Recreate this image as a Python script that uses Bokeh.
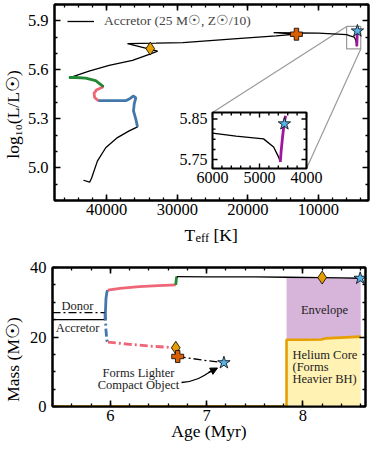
import numpy as np
from bokeh.plotting import figure
from bokeh.layouts import column, row
from bokeh.models import (Range1d, FixedTicker, LinearAxis, Legend, LegendItem,
                          Arrow, NormalHead)
from bokeh.core.properties import value
from bokeh.embed import file_html
from bokeh.resources import INLINE

SERIF = "Liberation Serif"
BLUE, PINK, GREEN, PURPLE = "#4477AA", "#EE6677", "#228833", "#A0179F"
GOLD, DORANGE, STARC = "#E69F00", "#D95F02", "#56B4E9"
ENV_FILL, CORE_FILL = "#D7B4DA", "#FFF2B3"

# ---------------- top panel data: HR diagram of the accretor ----------------
ms_teff = [43300, 42420, 42136, 41325, 40144, 38480, 36815, 35634]
ms_logl = [4.924, 4.912, 4.938, 5.041, 5.123, 5.185, 5.226, 5.251]
blue_teff = [35634, 35876, 36203, 36103, 35876, 36203, 36673, 37300, 39191, 41183]
blue_logl = [5.251, 5.298, 5.349, 5.391, 5.428, 5.440, 5.425, 5.411, 5.411, 5.411]
pink_teff = [41183, 41710, 41795, 41467, 40472]
pink_logl = [5.411, 5.431, 5.456, 5.477, 5.497]
green_teff = [40472, 41567, 42990, 44412, 45351]
green_logl = [5.497, 5.534, 5.549, 5.553, 5.553]
post_teff = [45000, 42506, 39660, 36345, 33972, 32790, 37057, 33000, 29200, 22000,
             16000, 13113, 16330, 10000, 6000, 5500, 4914, 4700, 4593, 4557]
post_logl = [5.556, 5.592, 5.627, 5.658, 5.695, 5.715, 5.761, 5.764, 5.767, 5.790,
             5.808, 5.818, 5.828, 5.825, 5.815, 5.808, 5.801, 5.781, 5.756, 5.744]
purple_teff = [4557, 4540, 4510, 4480, 4445]
purple_logl = [5.744, 5.770, 5.805, 5.835, 5.858]
hr_diamond = ([33830], [5.730])
hr_plus = ([13113], [5.818])
hr_star = ([4470], [5.838])

top_xticks = [10000, 20000, 30000, 40000]
top_xlabels = ["10000", "20000", "30000", "40000"]
top_xminor = list(range(4000, 48000, 2000))
top_yticks = [5.0, 5.3, 5.6, 5.9]
top_ylabels = ["5.0", "5.3", "5.6", "5.9"]
top_yminor = [4.8, 4.9, 5.1, 5.2, 5.4, 5.5, 5.7, 5.8, 6.0]

inset_xrange = (6000, 4000)
inset_yrange = (5.728, 5.866)
inset_xticks = [6000, 5000, 4000]
inset_xlabels = ["6000", "5000", "4000"]
inset_xminor = [5800, 5600, 5400, 5200, 4800, 4600, 4400, 4200]
inset_yticks = [5.75, 5.85]
inset_ylabels = ["5.75", "5.85"]
inset_yminor = [5.775, 5.8, 5.825]

# ---------------- bottom panel data: mass evolution ----------------
acc_pre_age, acc_pre_mass = [5.40, 5.945], [25.0, 25.0]
acc_blue_age, acc_blue_mass = [5.945, 5.95, 5.955, 5.965, 5.975], [25.0, 27.5, 31.0, 33.0, 33.5]
acc_pink_age, acc_pink_mass = [5.975, 6.1, 6.3, 6.5, 6.68], [33.5, 34.0, 34.5, 34.8, 35.0]
acc_green_age, acc_green_mass = [6.68, 6.685, 6.69], [35.0, 36.5, 37.4]
acc_post_age = [6.69, 7.0, 7.5, 7.83, 8.2, 8.4, 8.595]
acc_post_mass = [37.4, 37.3, 37.3, 37.2, 37.1, 37.0, 36.9]

don_pre_age, don_pre_mass = [5.40, 5.945], [27.0, 27.0]
don_blue_age, don_blue_mass = [5.945, 5.95, 5.955, 5.965, 5.975], [27.0, 25.5, 22.0, 19.0, 18.5]
don_pink_age, don_pink_mass = [5.975, 6.2, 6.4, 6.68], [18.5, 17.9, 17.4, 16.9]
don_post_age, don_post_mass = [6.70, 6.85, 7.0, 7.18], [14.4, 13.8, 13.2, 12.6]

core_age = [5.40, 7.83, 7.83, 8.00, 8.19, 8.23, 8.60]
core_mass = [0.0, 0.0, 19.2, 19.2, 19.3, 19.6, 20.1]
env_age = [7.83, 8.0, 8.19, 8.23, 8.4, 8.60]

m_diamond = ([6.68, 8.20], [16.9, 37.1])
m_plus = ([6.70], [14.4])
m_star = ([7.18, 8.595], [12.6, 36.9])

bot_xticks, bot_xlabels = [6, 7, 8], ["6", "7", "8"]
bot_xminor = [round(5.4 + 0.2 * i, 1) for i in range(17)]
bot_yticks, bot_ylabels = [0, 20, 40], ["0", "20", "40"]
bot_yminor = [5, 10, 15, 25, 30, 35]

# ---------------- geometry (page pixels; layout origin sits at page -8) ----------------
O = -8
LW = 32
T_X, T_Y = (47400, 2900), (4.8, 6.0)
T_FL, T_FT, T_FW, T_FH = 52, 4, 314, 196
T_BOT = 222
B_TOP = 245
B_X, B_Y = (5.4, 8.65), (0, 40)
B_FL, B_FT, B_FW, B_FH = 52, 267, 313, 139
PAGE_B = 451
RIGHT = 368


def tx(px):
    return T_X[0] + (px - T_FL) / T_FW * (T_X[1] - T_X[0])


def ty(py):
    return T_Y[1] - (py - T_FT) / T_FH * (T_Y[1] - T_Y[0])


def bx(px):
    return B_X[0] + (px - B_FL) / B_FW * (B_X[1] - B_X[0])


def by(py):
    return B_Y[1] - (py - B_FT) / B_FH * (B_Y[1] - B_Y[0])


def mirror(p, side, ticks, length, line):
    ax = LinearAxis(ticker=FixedTicker(ticks=[], minor_ticks=ticks))
    ax.minor_tick_in, ax.minor_tick_out = length, 0
    ax.major_tick_in = ax.major_tick_out = 0
    ax.minor_tick_line_width = 1.6 if length > 4 else 1.3
    ax.minor_tick_line_color = "black"
    ax.major_label_standoff = 0
    ax.axis_line_width = 2
    ax.axis_line_color = "black" if line else None
    p.add_layout(ax, side)


def style(p, xt, xm, xl, yt, ym, yl):
    bottom, left = p.below[0], p.left[0]
    bottom.ticker = FixedTicker(ticks=xt, minor_ticks=xm)
    left.ticker = FixedTicker(ticks=yt, minor_ticks=ym)
    bottom.major_label_overrides = dict(zip(xt, xl))
    left.major_label_overrides = dict(zip(yt, yl))
    for ax in (bottom, left):
        ax.major_tick_in, ax.major_tick_out = 6, 0
        ax.minor_tick_in, ax.minor_tick_out = 3, 0
        ax.major_tick_line_width, ax.minor_tick_line_width = 1.6, 1.3
        ax.major_tick_line_color = ax.minor_tick_line_color = "black"
        ax.axis_line_width, ax.axis_line_color = 2, "black"
        ax.major_label_text_font = SERIF
        ax.major_label_text_font_size = "16.5px"
        ax.major_label_text_color = "black"
    bottom.major_label_standoff = 3
    left.major_label_standoff = 6
    mirror(p, "above", xt, 6, True)
    mirror(p, "above", xm, 3, False)
    mirror(p, "right", yt, 6, True)
    mirror(p, "right", ym, 3, False)
    p.grid.visible = False
    p.outline_line_color = "black"
    p.outline_line_width = 2


def strip(x0, x1, y0, y1):
    """A bare figure whose data coordinates are page pixels (for axis titles)."""
    s = figure(frame_width=int(x1 - x0), frame_height=int(y1 - y0),
               x_range=Range1d(x0, x1), y_range=Range1d(y1, y0),
               min_border_left=0, min_border_right=0, min_border_top=0, min_border_bottom=0,
               x_axis_location=None, y_axis_location=None, outline_line_color=None,
               output_backend="svg", toolbar_location=None)
    s.grid.visible = False
    return s


def stext(s, x, y, t, size, angle=0.0, align="center", baseline="middle"):
    s.text(x=[x], y=[y], text=[t], angle=angle, text_align=align, text_baseline=baseline,
           text_font=value(SERIF), text_font_size=size, text_font_style="normal",
           text_color="black")


# ================= top panel =================
p1 = figure(frame_width=T_FW, frame_height=T_FH, x_range=Range1d(*T_X), y_range=Range1d(*T_Y),
            min_border_left=T_FL - (O + LW), min_border_right=RIGHT - T_FL - T_FW,
            min_border_top=T_FT - O, min_border_bottom=T_BOT - T_FT - T_FH,
            output_backend="svg", toolbar_location=None)
style(p1, top_xticks, top_xminor, top_xlabels, top_yticks, top_yminor, top_ylabels)

IX = (tx(210), tx(304))
IY = (ty(168), ty(112))


def inset_x(t):
    t = np.asarray(t, dtype=float)
    return IX[0] + (t - inset_xrange[0]) / (inset_xrange[1] - inset_xrange[0]) * (IX[1] - IX[0])


def inset_y(v):
    v = np.asarray(v, dtype=float)
    return IY[0] + (v - inset_yrange[0]) / (inset_yrange[1] - inset_yrange[0]) * (IY[1] - IY[0])


p1.quad(left=[inset_xrange[0]], right=[inset_xrange[1]], bottom=[inset_yrange[0]],
        top=[inset_yrange[1]], fill_alpha=0, line_color="#9a9a9a", line_width=1.2)
p1.segment(x0=[inset_xrange[0], inset_xrange[1]], y0=[inset_yrange[1], inset_yrange[0]],
           x1=[IX[0], IX[1]], y1=[IY[1], IY[0]], line_color="#9a9a9a", line_width=1.2)

all_teff = ms_teff + blue_teff + pink_teff + green_teff + post_teff
all_logl = ms_logl + blue_logl + pink_logl + green_logl + post_logl
r_black = p1.line(all_teff, all_logl, line_color="black", line_width=1.3)
p1.line(blue_teff, blue_logl, line_color=BLUE, line_width=2.8)
p1.line(pink_teff, pink_logl, line_color=PINK, line_width=2.8)
p1.line(green_teff, green_logl, line_color=GREEN, line_width=2.8)
p1.line(purple_teff, purple_logl, line_color=PURPLE, line_width=2.8)
p1.scatter(*hr_diamond, marker="diamond", size=13, fill_color=GOLD, line_color="black", line_width=0.8)
p1.scatter(*hr_plus, marker="plus", size=12, fill_color=DORANGE, line_color="black", line_width=0.8)
p1.scatter(*hr_star, marker="star", size=13, fill_color=STARC, line_color="black", line_width=0.8)

leg = Legend(items=[LegendItem(label="Accretor (25 M☉, Z☉/10)", renderers=[r_black])],
             location=(13, T_FH - 25), padding=0, margin=0, glyph_width=27, glyph_height=16,
             label_standoff=10, label_text_font=SERIF, label_text_font_size="13.5px",
             border_line_alpha=0, background_fill_alpha=0)
p1.add_layout(leg)

# ---- inset ----
p1.quad(left=[IX[0]], right=[IX[1]], bottom=[IY[0]], top=[IY[1]], fill_color="white", line_alpha=0)
in_teff = [t for t in post_teff if t <= inset_xrange[0]]
in_logl = [l for t, l in zip(post_teff, post_logl) if t <= inset_xrange[0]]
p1.line(inset_x(in_teff), inset_y(in_logl), line_color="black", line_width=1.3)
p1.line(inset_x(purple_teff), inset_y(purple_logl), line_color=PURPLE, line_width=2.8)
p1.scatter(inset_x(hr_star[0]), inset_y(hr_star[1]), marker="star", size=13,
           fill_color=STARC, line_color="black", line_width=0.8)
PXX = (T_X[0] - T_X[1]) / T_FW
PXY = (T_Y[1] - T_Y[0]) / T_FH
for ticks, ln in ((inset_xticks, 5), (inset_xminor, 3)):
    xs = list(inset_x(ticks)) * 2
    n = len(ticks)
    p1.segment(x0=xs, y0=[IY[0]] * n + [IY[1]] * n, x1=xs,
               y1=[IY[0] + ln * PXY] * n + [IY[1] - ln * PXY] * n,
               line_color="black", line_width=1.4)
for ticks, ln in ((inset_yticks, 5), (inset_yminor, 3)):
    ys = list(inset_y(ticks)) * 2
    n = len(ticks)
    p1.segment(y0=ys, x0=[IX[0]] * n + [IX[1]] * n, y1=ys,
               x1=[IX[0] - ln * PXX] * n + [IX[1] + ln * PXX] * n,
               line_color="black", line_width=1.4)
p1.quad(left=[IX[0]], right=[IX[1]], bottom=[IY[0]], top=[IY[1]], fill_alpha=0,
        line_color="black", line_width=2)
p1.text(x=inset_x(inset_xticks), y=[IY[0]] * 3, text=inset_xlabels, y_offset=3,
        text_align="center", text_baseline="top", text_font=value(SERIF),
        text_font_size="16px", text_color="black")
p1.text(x=[IX[0]] * 2, y=inset_y(inset_yticks), text=inset_ylabels, x_offset=-5,
        text_align="right", text_baseline="middle", text_font=value(SERIF),
        text_font_size="16px", text_color="black")

# axis-title strips for the top panel
l1 = strip(O, O + LW, O, T_BOT)
stext(l1, 12, 102, "log₁₀(L/L☉)", "17.5px", angle=np.pi / 2)
t1 = strip(O, RIGHT, T_BOT, B_TOP)
stext(t1, 184, 234, "T", "17.5px", align="left", baseline="alphabetic")
stext(t1, 195, 237, "eff", "12.5px", align="left", baseline="alphabetic")
stext(t1, 213, 234, "[K]", "17.5px", align="left", baseline="alphabetic")

# ================= bottom panel =================
p2 = figure(frame_width=B_FW, frame_height=B_FH, x_range=Range1d(*B_X), y_range=Range1d(*B_Y),
            min_border_left=B_FL - (O + LW), min_border_right=RIGHT - B_FL - B_FW,
            min_border_top=B_FT - B_TOP, min_border_bottom=PAGE_B - B_FT - B_FH,
            output_backend="svg", toolbar_location=None)
style(p2, bot_xticks, bot_xminor, bot_xlabels, bot_yticks, bot_yminor, bot_ylabels)
xa = p2.below[0]
xa.axis_label = "Age (Myr)"
xa.axis_label_text_font = SERIF
xa.axis_label_text_font_size = "17.5px"
xa.axis_label_text_font_style = "normal"
xa.axis_label_text_color = "black"
xa.axis_label_standoff = -3

env_core = np.interp(env_age, core_age[2:], core_mass[2:])
env_tot = np.interp(env_age, acc_post_age, acc_post_mass)
p2.varea(x=env_age, y1=env_core, y2=env_tot, fill_color=ENV_FILL)
p2.varea(x=env_age, y1=[0] * len(env_age), y2=env_core, fill_color=CORE_FILL)
p2.line(core_age, core_mass, line_color=GOLD, line_width=2.6)

DD = "8 3 2 3"
p2.line(acc_pre_age, acc_pre_mass, line_color="black", line_width=1.3)
p2.line(acc_blue_age, acc_blue_mass, line_color=BLUE, line_width=2.8)
p2.line(acc_pink_age, acc_pink_mass, line_color=PINK, line_width=2.8)
p2.line(acc_green_age, acc_green_mass, line_color=GREEN, line_width=2.8)
p2.line(acc_post_age, acc_post_mass, line_color="black", line_width=1.3)
p2.line(don_pre_age, don_pre_mass, line_color="black", line_width=1.3, line_dash=DD)
p2.line(don_blue_age, don_blue_mass, line_color=BLUE, line_width=2.8, line_dash=DD)
p2.line(don_pink_age, don_pink_mass, line_color=PINK, line_width=2.8, line_dash=DD)
p2.line(don_post_age, don_post_mass, line_color="black", line_width=1.3, line_dash=DD)
p2.scatter(*m_diamond, marker="diamond", size=13, fill_color=GOLD, line_color="black", line_width=0.8)
p2.scatter(*m_plus, marker="plus", size=12, fill_color=DORANGE, line_color="black", line_width=0.8)
p2.scatter(*m_star, marker="star", size=13, fill_color=STARC, line_color="black", line_width=0.8)


def txt(p, x, y, s, size="12.5px", align="center"):
    p.text(x=[x], y=[y], text=[s], text_align=align, text_baseline="middle",
           text_font=value(SERIF), text_font_size=size, text_color="#222222")


txt(p2, bx(77), by(305), "Donor")
txt(p2, bx(77), by(327), "Accretor")
txt(p2, bx(138), by(372), "Forms Lighter")
txt(p2, bx(138), by(384), "Compact Object")
txt(p2, bx(324), by(309), "Envelope")
txt(p2, bx(292), by(354), "Helium Core", align="left")
txt(p2, bx(292), by(366), "(Forms", align="left")
txt(p2, bx(292), by(378.5), "Heavier BH)", align="left")

p2.bezier(x0=[bx(181)], y0=[by(382)], x1=[bx(210)], y1=[by(371)],
          cx0=[bx(196)], cy0=[by(381)], cx1=[bx(204)], cy1=[by(375)],
          line_color="black", line_width=1.3)
p2.add_layout(Arrow(x_start=bx(208), y_start=by(372.2), x_end=bx(217), y_end=by(367.5),
                    end=NormalHead(size=7, fill_color="black", line_color="black"),
                    line_color="black", line_width=1.3))

l2 = strip(O, O + LW, B_TOP, PAGE_B)
stext(l2, 12, 337, "Mass (M☉)", "17.5px", angle=np.pi / 2)

layout = column(row(l1, p1), t1, row(l2, p2),
                styles={"margin-left": "-8px", "margin-top": "-8px"})
open("out.html", "w").write(file_html(layout, INLINE))
